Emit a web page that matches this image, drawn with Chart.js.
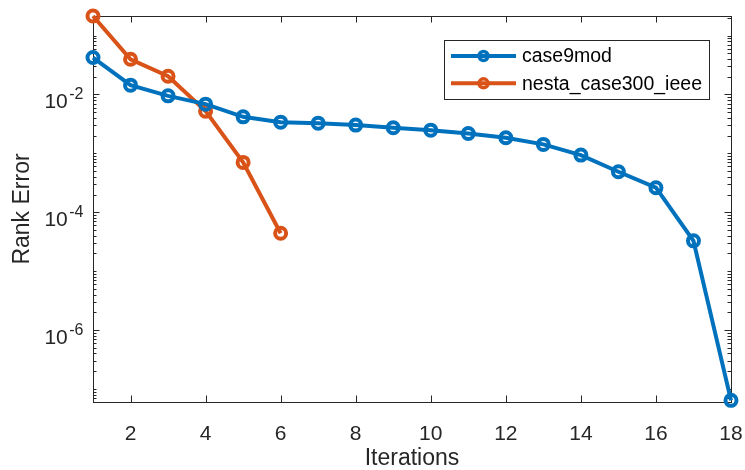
<!DOCTYPE html>
<html>
<head>
<meta charset="utf-8">
<script src="https://cdn.jsdelivr.net/npm/chart.js@4.4.1/dist/chart.umd.min.js"></script>
<style>
  html, body { margin: 0; padding: 0; background: #fff; }
  canvas { display: block; }
</style>
</head>
<body>
<canvas id="rankChart" width="745" height="470"></canvas>
<script>
// data
const case9Iterations = [1, 2, 3, 4, 5, 6, 7, 8, 9, 10, 11, 12, 13, 14, 15, 16, 17, 18];
const case9mod = [0.0424, 0.0144, 0.00947, 0.00685, 0.00417, 0.00339, 0.00326, 0.00302, 0.00272,
                  0.00248, 0.00218, 0.00184, 0.00142, 0.000935, 0.000488, 0.000261, 3.27e-5, 6.4e-8];
const nestaIterations = [1, 2, 3, 4, 5, 6];
const nestaCase300 = [0.215, 0.0396, 0.0204, 0.00521, 0.000703, 4.4e-5];
const seriesNames = ['case9mod', 'nesta_case300_ieee'];
const xTicks = [2, 4, 6, 8, 10, 12, 14, 16, 18];
const yLabelTicks = [1e-2, 1e-4, 1e-6];

const FONT = '"Liberation Sans", Arial, Helvetica, sans-serif';
const AXIS = '#262626';
const BLUE = '#0072BD';
const ORANGE = '#D95319';

const toPoints = (xs, ys) => xs.map((x, i) => ({ x: x, y: ys[i] }));
const allY = case9mod.concat(nestaCase300);
const yMin = Math.min(...allY);
const yMax = Math.max(...allY);

// MATLAB style box, inward ticks, superscript labels and legend
const matlabAxes = {
    id: 'matlabAxes',
    beforeDatasetsDraw(chart) {
        const { ctx, chartArea: a, scales: { x, y } } = chart;
        ctx.save();
        ctx.strokeStyle = AXIS;
        ctx.lineWidth = 1;
        ctx.beginPath();
        // x ticks top and bottom
        xTicks.forEach(v => {
            const px = Math.round(x.getPixelForValue(v)) + 0.5;
            ctx.moveTo(px, a.bottom); ctx.lineTo(px, a.bottom - 6.5);
            ctx.moveTo(px, a.top); ctx.lineTo(px, a.top + 6.5);
        });
        // y ticks, long on labelled decades
        const kLo = Math.floor(Math.log10(yMin)), kHi = Math.ceil(Math.log10(yMax));
        for (let k = kLo; k <= kHi; k++) {
            for (let m = 1; m <= 9; m++) {
                const v = m * Math.pow(10, k);
                if (v < yMin || v > yMax) continue;
                const major = m === 1 && yLabelTicks.some(t => Math.abs(Math.log10(t) - k) < 1e-9);
                const len = major ? 6.5 : 3.5;
                const py = Math.round(y.getPixelForValue(v)) + 0.5;
                ctx.moveTo(a.left, py); ctx.lineTo(a.left + len, py);
                ctx.moveTo(a.right, py); ctx.lineTo(a.right - len, py);
            }
        }
        ctx.stroke();
        ctx.strokeRect(Math.round(a.left) + 0.5, Math.round(a.top) + 0.5,
                       Math.round(a.right - a.left), Math.round(a.bottom - a.top));

        // y tick labels 10^k
        ctx.fillStyle = AXIS;
        ctx.textAlign = 'right';
        ctx.textBaseline = 'alphabetic';
        yLabelTicks.forEach(v => {
            const py = y.getPixelForValue(v);
            const exp = String(Math.round(Math.log10(v)));
            ctx.font = '16px ' + FONT;
            const ew = ctx.measureText(exp).width;
            ctx.fillText(exp, a.left - 9.5, py + 4.5);
            ctx.font = '21px ' + FONT;
            ctx.fillText('10', a.left - 9.5 - ew - 1.5, py + 14);
        });
        ctx.restore();
    },
    afterDraw(chart) {
        const { ctx, chartArea: a } = chart;
        const bx = a.right - 287, by = a.top + 24, bw = 265, bh = 59;
        ctx.save();
        ctx.fillStyle = '#fff';
        ctx.fillRect(bx, by, bw, bh);
        ctx.strokeStyle = AXIS;
        ctx.lineWidth = 1;
        ctx.strokeRect(bx + 0.5, by + 0.5, bw, bh);
        chart.data.datasets.forEach((ds, i) => {
            const ry = by + 16 + i * 27.3;
            ctx.strokeStyle = ds.borderColor;
            ctx.lineWidth = 4;
            ctx.beginPath();
            ctx.moveTo(bx + 7, ry); ctx.lineTo(bx + 72, ry);
            ctx.stroke();
            ctx.beginPath();
            ctx.arc(bx + 39.5, ry, 4.5, 0, Math.PI * 2);
            ctx.lineWidth = 3.5;
            ctx.stroke();
            ctx.fillStyle = '#000';
            ctx.font = '19.5px ' + FONT;
            ctx.textAlign = 'left';
            ctx.textBaseline = 'middle';
            ctx.fillText(ds.label, bx + 78, ry + 1);
        });
        ctx.restore();
    }
};

new Chart(document.getElementById('rankChart'), {
    type: 'line',
    data: {
        datasets: [{
            label: seriesNames[0],
            data: toPoints(case9Iterations, case9mod),
            borderColor: BLUE,
            borderWidth: 4,
            pointRadius: 5.5,
            pointBorderWidth: 4,
            pointBorderColor: BLUE,
            pointBackgroundColor: 'rgba(0,0,0,0)',
            tension: 0,
            clip: false
        }, {
            label: seriesNames[1],
            data: toPoints(nestaIterations, nestaCase300),
            borderColor: ORANGE,
            borderWidth: 4,
            pointRadius: 5.5,
            pointBorderWidth: 4,
            pointBorderColor: ORANGE,
            pointBackgroundColor: 'rgba(0,0,0,0)',
            tension: 0,
            clip: false
        }]
    },
    options: {
        responsive: false,
        animation: false,
        devicePixelRatio: 1,
        events: [],
        layout: { padding: { left: 0, right: 14, top: 16, bottom: 0 } },
        plugins: {
            legend: { display: false },
            tooltip: { enabled: false }
        },
        scales: {
            x: {
                type: 'linear',
                min: 1,
                max: 18,
                afterBuildTicks: s => { s.ticks = xTicks.map(v => ({ value: v })); },
                afterFit: s => { s.height = 68; s.paddingLeft = 0; s.paddingRight = 0; },
                grid: { display: false },
                border: { display: false },
                ticks: {
                    color: AXIS,
                    font: { family: FONT, size: 21, lineHeight: 1 },
                    padding: 14,
                    maxRotation: 0,
                    autoSkip: false
                },
                title: {
                    display: true,
                    text: 'Iterations',
                    color: AXIS,
                    font: { family: FONT, size: 23, lineHeight: 1 },
                    padding: { top: 0, bottom: 0 }
                }
            },
            y: {
                type: 'logarithmic',
                min: yMin,
                max: yMax,
                afterFit: s => { s.width = 93; s.paddingTop = 0; s.paddingBottom = 0; },
                grid: { display: false },
                border: { display: false },
                ticks: { display: false },
                title: {
                    display: true,
                    text: 'Rank Error',
                    color: AXIS,
                    font: { family: FONT, size: 23, lineHeight: 1 },
                    padding: { top: 11, bottom: 0 }
                }
            }
        }
    },
    plugins: [matlabAxes]
});
</script>
</body>
</html>
